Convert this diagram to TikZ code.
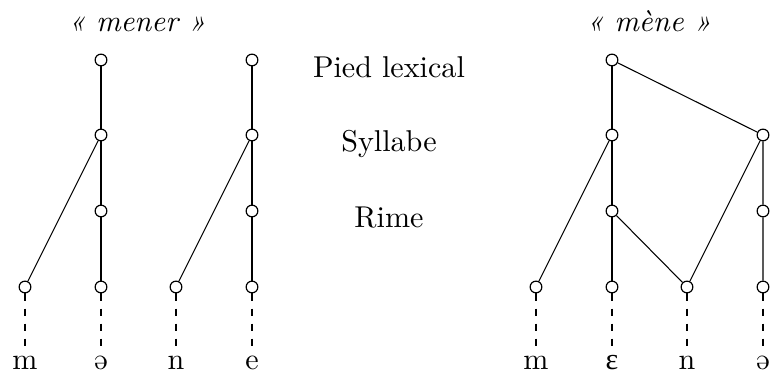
\documentclass[tikz,border=0pt]{standalone}
\usepackage{fontspec}
\newfontfamily\ipafont{Liberation Serif}
\begin{document}
\begin{tikzpicture}[x=0.332pt,y=-0.332pt,
  dot/.style={circle,draw,fill=white,inner sep=0pt,minimum size=3.9pt},
  seg/.style={anchor=base,inner sep=0pt},
  lbl/.style={anchor=base,inner sep=0pt},
  link/.style={line width=0.35pt},
  assoc/.style={dash pattern=on 2.5pt off 2.5pt,line width=0.35pt}]
\useasboundingbox (0,0) rectangle (771,372);
% titles
\node[lbl] (t1) at (137,32) {\textit{« mener »}};
\node[lbl] (t2) at (649,32) {\textit{« mène »}};
% level labels
\node[lbl] (lp) at (389,78) {Pied lexical};
\node[lbl] (ls) at (389,152) {Syllabe};
\node[lbl] (lr) at (389,228) {Rime};
% left tree: mener
\node[dot] (a0) at (101,60) {};
\node[dot] (a1) at (101,135) {};
\node[dot] (a2) at (101,211) {};
\node[dot] (a3) at (101,287) {};
\node[dot] (am) at (25,287) {};
\node[dot] (b0) at (252,60) {};
\node[dot] (b1) at (252,135) {};
\node[dot] (b2) at (252,211) {};
\node[dot] (b3) at (252,287) {};
\node[dot] (bm) at (176,287) {};
\draw[link] (a0) -- (a1) -- (a2) -- (a3);
\draw[link] (a1) -- (am);
\draw[link] (b0) -- (b1) -- (b2) -- (b3);
\draw[link] (b1) -- (bm);
% right tree: mene
\node[dot] (c0) at (612,60) {};
\node[dot] (c1) at (612,135) {};
\node[dot] (c2) at (612,211) {};
\node[dot] (c3) at (612,287) {};
\node[dot] (cm) at (536,287) {};
\node[dot] (cn) at (687,287) {};
\node[dot] (d1) at (763,135) {};
\node[dot] (d2) at (763,211) {};
\node[dot] (d3) at (763,287) {};
\draw[link] (c0) -- (c1) -- (c2) -- (c3);
\draw[link] (c1) -- (cm);
\draw[link] (c2) -- (cn);
\draw[link] (c0) -- (d1) -- (d2) -- (d3);
\draw[link] (d1) -- (cn);
% segments
\node[seg] (s1) at (25,370) {m};
\node[seg] (s2) at (101,370) {ə};
\node[seg] (s3) at (176,370) {n};
\node[seg] (s4) at (252,370) {e};
\node[seg] (s5) at (536,370) {m};
\node[seg] (s6) at (612,370) {{\ipafont ɛ}};
\node[seg] (s7) at (687,370) {n};
\node[seg] (s8) at (763,370) {ə};
\foreach \n in {am,a3,bm,b3,cm,c3,cn,d3}
  \draw[assoc] (\n) -- (\n |- 0,348);
\end{tikzpicture}
\end{document}
